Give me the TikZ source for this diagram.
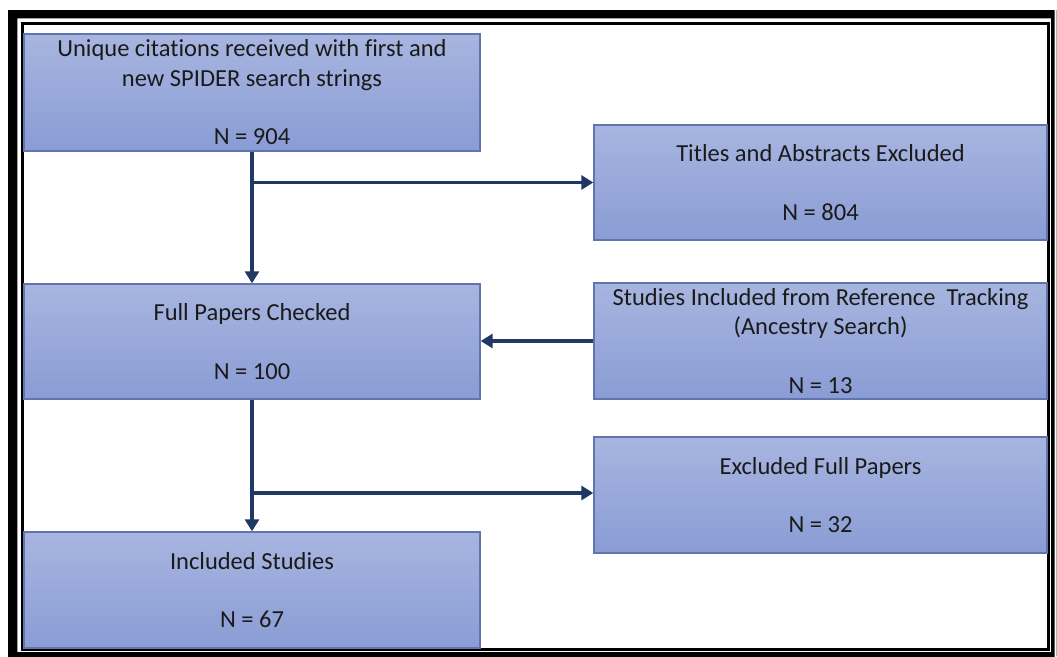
\documentclass[tikz,border=0pt]{standalone}
\usepackage{fontspec}
\setmainfont{Carlito}[Ligatures={NoCommon,NoRare}]
\usetikzlibrary{arrows.meta}
\definecolor{boxtop}{HTML}{A7B5DF}
\definecolor{boxbot}{HTML}{8A9CD5}
\definecolor{boxedge}{HTML}{6174AD}
\definecolor{navy}{HTML}{1F3864}
\definecolor{ink}{HTML}{1A1A1A}
\tikzset{
  stagebox/.style={draw=boxedge, line width=1.4pt, top color=boxtop, bottom color=boxbot,
    rectangle, align=center, text=ink, inner sep=0pt,
    font=\fontsize{24.5}{29.5}\selectfont},
  flow/.style={draw=navy, line width=3.2pt, -{Triangle[length=12pt,width=14pt]}}
}
\begin{document}
\begin{tikzpicture}[x=1pt,y=-1pt]
\useasboundingbox (0,0) rectangle (1057,656);
% page frame: heavy outer border and thin inner rule
\fill[black, even odd rule] (8,10) rectangle (1054.5,657) (17.3,18.3) rectangle (1051,652);
\draw[black, line width=2.6pt] (22.3,23.3) rectangle (1048.5,649.5);
\draw[gray!60, line width=0.8pt] (1056.3,10) -- (1056.3,656);

% stages
\node[stagebox, minimum width=456pt, minimum height=117pt] (cites) at (252,92.5)
  {Unique citations received with first and\\new SPIDER search strings\\[29pt]N = 904};
\node[stagebox, minimum width=453pt, minimum height=115pt] (titles) at (820.5,182.5)
  {Titles and Abstracts Excluded\\[29pt]N = 804};
\node[stagebox, minimum width=456pt, minimum height=115pt] (full) at (252,341.5)
  {Full Papers Checked\\[29pt]N = 100};
\node[stagebox, minimum width=453pt, minimum height=116pt] (ancestry) at (820.5,341)
  {Studies Included from Reference\ \ Tracking\\(Ancestry Search)\\[29pt]N = 13};
\node[stagebox, minimum width=453pt, minimum height=116pt] (exfull) at (820.5,495)
  {Excluded Full Papers\\[29pt]N = 32};
\node[stagebox, minimum width=456pt, minimum height=116pt] (incl) at (252,590)
  {Included Studies\\[29pt]N = 67};

% connectors
\draw[flow] (cites.south) -- (full.north);
\draw[flow] (cites.south |- titles.west) -- (titles.west);
\draw[flow] (ancestry.west) -- (ancestry.west -| full.east);
\draw[flow] (full.south) -- (incl.north);
\draw[flow] (full.south |- 0,493) -- (exfull.west |- 0,493);
\end{tikzpicture}
\end{document}
